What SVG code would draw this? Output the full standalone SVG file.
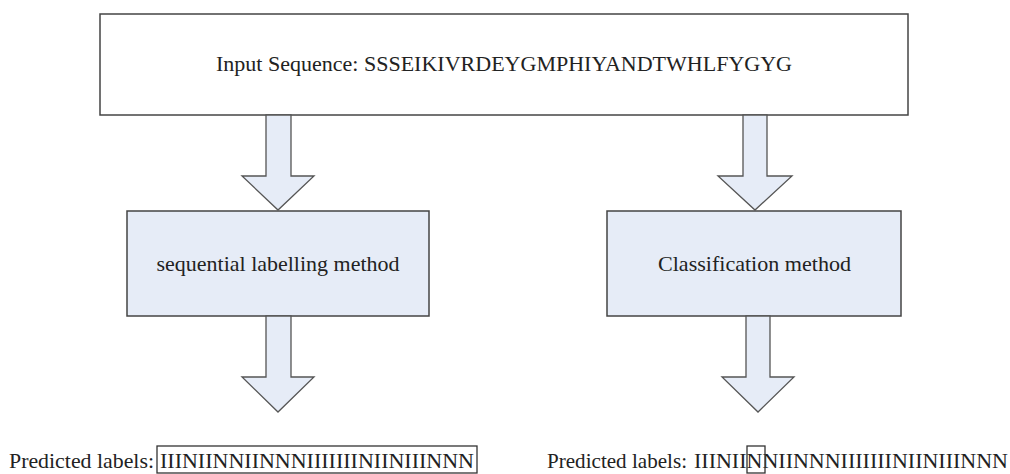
<svg xmlns="http://www.w3.org/2000/svg" width="1010" height="474" viewBox="0 0 1010 474">
<style>
.t{font-family:"Liberation Serif","Times New Roman",serif;font-size:22px;fill:#222}
.box{fill:#e6ecf7;stroke:#444;stroke-width:1.5}
.top{fill:#fff;stroke:#444;stroke-width:1.5}
.arr{fill:#e6ecf7;stroke:#555;stroke-width:1.3;stroke-linejoin:miter}
.lab{fill:none;stroke:#333;stroke-width:1.3}
</style>
<rect width="1010" height="474" fill="#fff"/>
<g id="input">
<rect class="top" x="100" y="14" width="808" height="101"/>
<text class="t" x="504" y="71" text-anchor="middle" textLength="576" lengthAdjust="spacingAndGlyphs">Input Sequence: SSSEIKIVRDEYGMPHIYANDTWHLFYGYG</text>
</g>
<g id="seq">
<rect class="box" x="127" y="211" width="302" height="105"/>
<text class="t" x="278" y="271" text-anchor="middle" textLength="243" lengthAdjust="spacingAndGlyphs">sequential labelling method</text>
</g>
<g id="cls">
<rect class="box" x="607" y="211" width="294" height="105"/>
<text class="t" x="754.5" y="271" text-anchor="middle" textLength="193" lengthAdjust="spacingAndGlyphs">Classification method</text>
</g>
<g id="connectors">
<polygon class="arr" points="266,115 291,115 291,176 314,176 278,210 242,176 266,176"/>
<polygon class="arr" points="743,115 767,115 767,176 792,176 755,210 718,176 743,176"/>
<polygon class="arr" points="266,316 291,316 291,377 314,377 278,412 242,377 266,377"/>
<polygon class="arr" points="746,316 770,316 770,377 794,377 758,412 722,377 746,377"/>
</g>
<g id="out-seq">
<text class="t" x="9" y="468" textLength="145" lengthAdjust="spacingAndGlyphs">Predicted labels:</text>
<rect class="lab" x="157" y="446" width="320" height="27"/>
<text class="t" x="160" y="468" textLength="314" lengthAdjust="spacingAndGlyphs">IIINIINNIINNNIIIIIIINIINIIINNN</text>
</g>
<g id="out-cls">
<text class="t" x="547" y="468" textLength="140" lengthAdjust="spacingAndGlyphs">Predicted labels:</text>
<text class="t" x="694" y="468" textLength="314" lengthAdjust="spacingAndGlyphs">IIINIINNIINNNIIIIIIINIINIIINNN</text>
<rect class="lab" x="747" y="446" width="18" height="27"/>
</g>
</svg>
